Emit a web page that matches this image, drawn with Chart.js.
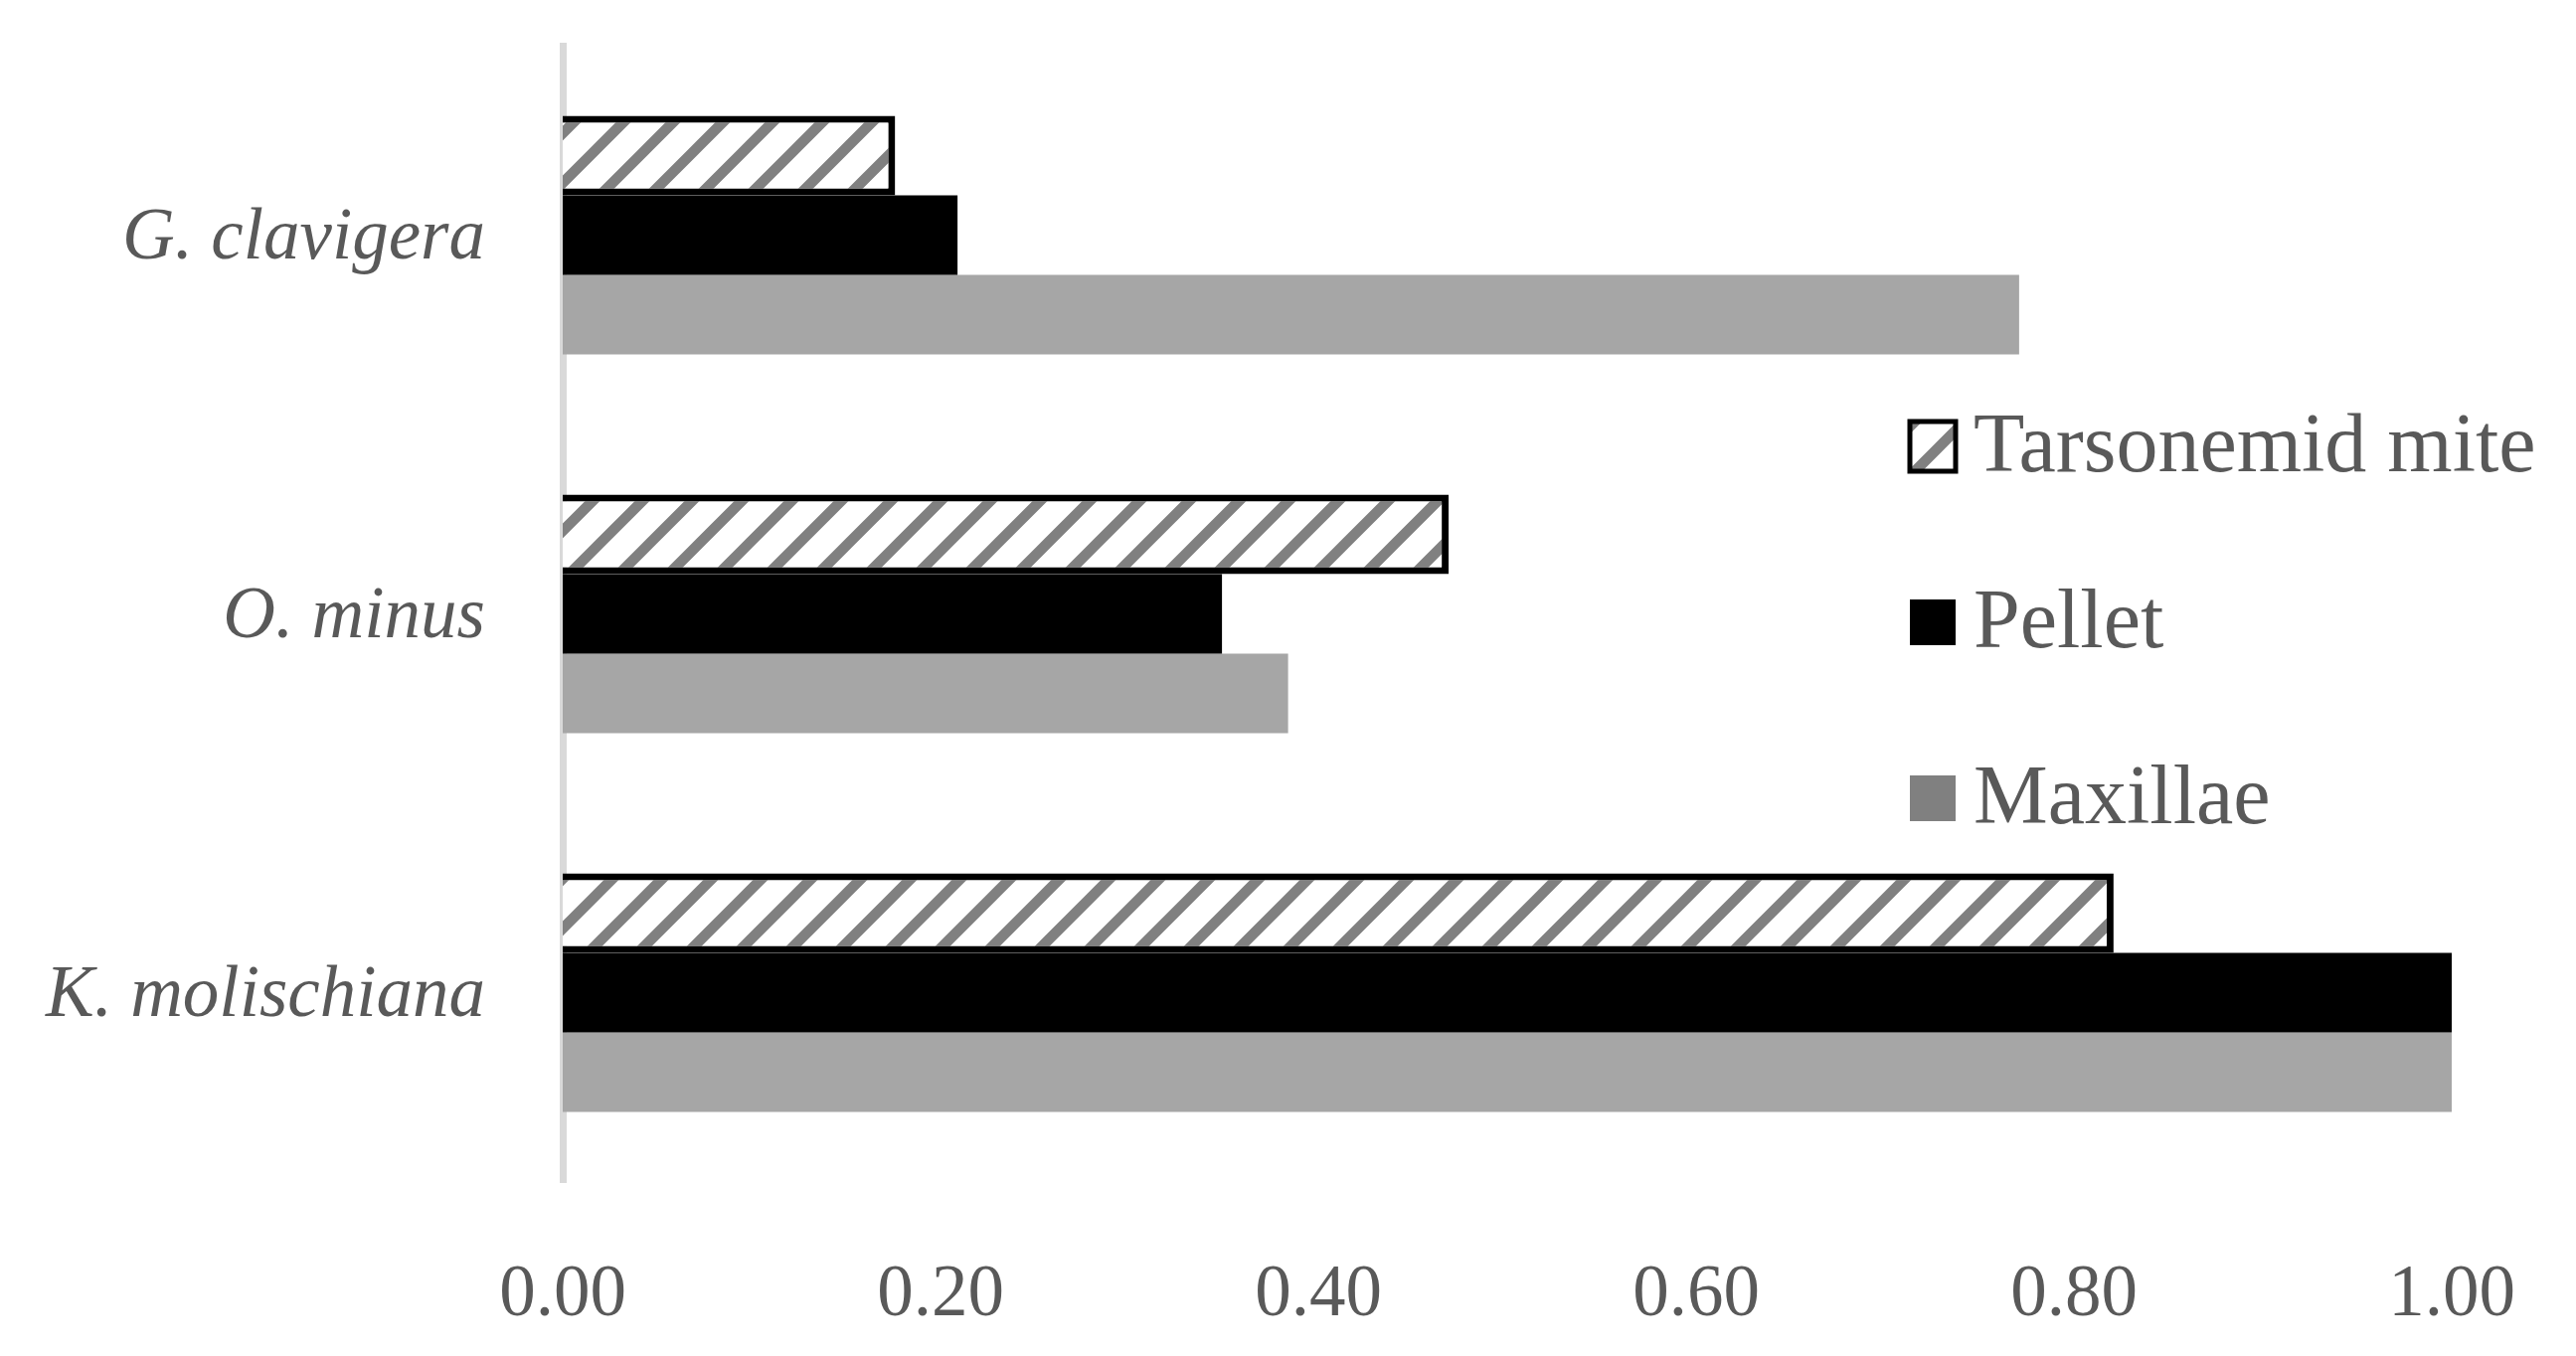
<!DOCTYPE html>
<html>
<head>
<meta charset="utf-8">
<script src="https://cdn.jsdelivr.net/npm/chart.js@4.4.0/dist/chart.umd.min.js"></script>
<style>
  html, body { margin: 0; padding: 0; background: #fff; }
</style>
</head>
<body>
<canvas id="chart" width="2591" height="1364"></canvas>
<script>
// values
var categories = ["G. clavigera", "O. minus", "K. molischiana"];
var seriesNames = ["Tarsonemid mite", "Pellet", "Maxillae"];
var tarsonemid = [0.176, 0.469, 0.821];
var pellet = [0.209, 0.349, 1.00];
var maxillae = [0.771, 0.384, 1.00];
var xTicks = [0, 0.2, 0.4, 0.6, 0.8, 1.0];

var canvas = document.getElementById("chart");
var ctx = canvas.getContext("2d");

// white with grey "/" stripes, like the excel pattern fill
function makeHatch() {
  var c = document.createElement("canvas");
  c.width = 50; c.height = 50;
  var g = c.getContext("2d");
  g.fillStyle = "#ffffff";
  g.fillRect(0, 0, 50, 50);
  g.strokeStyle = "#808080";
  g.lineWidth = 10.5;
  g.beginPath();
  g.moveTo(-25, 25); g.lineTo(25, -25);
  g.moveTo(0, 50); g.lineTo(50, 0);
  g.moveTo(25, 75); g.lineTo(75, 25);
  g.stroke();
  return ctx.createPattern(c, "repeat");
}
var hatch = makeHatch();

var serif = "'Liberation Serif', 'Times New Roman', serif";
Chart.defaults.color = "#595959";
Chart.defaults.font.family = serif;

// legend drawn inside the plot, on the right
var sideLegend = {
  id: "sideLegend",
  afterDraw: function (chart) {
    var c = chart.ctx;
    var rows = [449, 626, 803];
    var bx = 1921, size = 46;
    c.save();
    chart.data.datasets.forEach(function (ds, i) {
      var y = rows[i];
      c.fillStyle = ds.legendColor;
      c.fillRect(bx, y - size / 2, size, size);
      if (ds.legendBorder) {
        c.lineWidth = 5;
        c.strokeStyle = "#000";
        c.strokeRect(bx, y - size / 2 - 2, size, size + 4);
      }
      c.fillStyle = "#595959";
      c.font = "84px " + serif;
      c.textBaseline = "middle";
      c.textAlign = "left";
      c.fillText(ds.label, 1985, y + 3);
    });
    c.restore();
  }
};

new Chart(ctx, {
  type: "bar",
  data: {
    labels: categories,
    datasets: [
      {
        label: seriesNames[0],
        data: tarsonemid,
        backgroundColor: hatch,
        borderColor: "#000000",
        borderWidth: 7,
        borderSkipped: "start",
        legendColor: hatch,
        legendBorder: true
      },
      {
        label: seriesNames[1],
        data: pellet,
        backgroundColor: "#000000",
        legendColor: "#000000"
      },
      {
        label: seriesNames[2],
        data: maxillae,
        backgroundColor: "#a6a6a6",
        legendColor: "#808080"
      }
    ]
  },
  options: {
    indexAxis: "y",
    responsive: false,
    animation: false,
    layout: { padding: { left: 40, right: 125, top: 46, bottom: 0 } },
    datasets: {
      bar: { categoryPercentage: 0.63, barPercentage: 1.0 }
    },
    scales: {
      x: {
        min: 0,
        max: 1,
        afterBuildTicks: function (axis) {
          axis.ticks = xTicks.map(function (v) { return { value: v }; });
        },
        afterFit: function (scale) {
          scale.height = 175;
          scale.paddingLeft = 0;
          scale.paddingRight = 0;
        },
        grid: { display: false, drawTicks: false },
        border: { display: false },
        ticks: {
          padding: 71,
          font: { size: 73 },
          color: "#595959",
          callback: function (v) { return Number(v).toFixed(2); }
        }
      },
      y: {
        afterFit: function (scale) {
          scale.width = 526;
          scale.paddingTop = 0;
          scale.paddingBottom = 0;
        },
        grid: { display: false, drawTicks: false },
        border: { display: true, color: "#d9d9d9", width: 7 },
        ticks: {
          padding: 78,
          labelOffset: 4,
          font: { size: 73, style: "italic" },
          color: "#595959"
        }
      }
    },
    plugins: {
      legend: { display: false },
      tooltip: { enabled: false }
    }
  },
  plugins: [sideLegend]
});
</script>
</body>
</html>
